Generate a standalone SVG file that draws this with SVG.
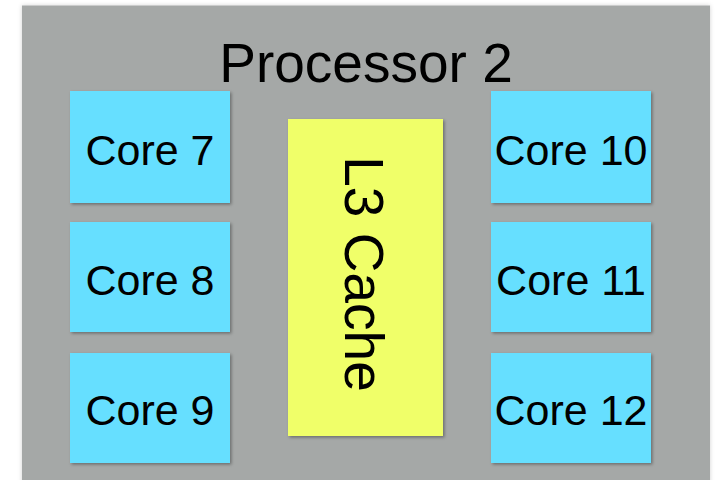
<svg xmlns="http://www.w3.org/2000/svg" width="719" height="480" viewBox="0 0 719 480">
  <style>
    .label { font-family: "Liberation Sans", Arial, Helvetica, sans-serif; fill: #000; text-anchor: middle; }
    .core { fill: #66dfff; filter: url(#boxShadow); }
    .cache { fill: #f0ff69; filter: url(#boxShadow); }
    .core-text { font-size: 43px; }
  </style>
  <defs>
    <filter id="boxShadow" x="-10%" y="-10%" width="125%" height="125%">
      <feDropShadow dx="1.5" dy="1.5" stdDeviation="1.5" flood-color="#000" flood-opacity="0.35"/>
    </filter>
    <filter id="panelShadow" x="-5%" y="-5%" width="110%" height="110%">
      <feDropShadow dx="0" dy="0" stdDeviation="2" flood-color="#000" flood-opacity="0.18"/>
    </filter>
  </defs>

  <rect width="719" height="480" fill="#ffffff"/>

  <!-- processor package -->
  <g id="processor">
    <rect x="22" y="5.5" width="688" height="490" fill="#a5a8a7" filter="url(#panelShadow)"/>
    <text class="label" x="366" y="82" font-size="55">Processor 2</text>
  </g>

  <!-- left column of cores -->
  <g id="core7">
    <rect class="core" x="70" y="91" width="160" height="112"/>
    <text class="label core-text" x="150" y="165">Core 7</text>
  </g>
  <g id="core8">
    <rect class="core" x="70" y="222" width="160" height="110"/>
    <text class="label core-text" x="150" y="295">Core 8</text>
  </g>
  <g id="core9">
    <rect class="core" x="70" y="353" width="160" height="110"/>
    <text class="label core-text" x="150" y="425">Core 9</text>
  </g>

  <!-- shared cache -->
  <g id="l3cache">
    <rect class="cache" x="288" y="119" width="155" height="317"/>
    <text class="label" font-size="55" transform="translate(345 274) rotate(90)">L3 Cache</text>
  </g>

  <!-- right column of cores -->
  <g id="core10">
    <rect class="core" x="491" y="91" width="160" height="112"/>
    <text class="label core-text" x="571" y="165">Core 10</text>
  </g>
  <g id="core11">
    <rect class="core" x="491" y="222" width="160" height="110"/>
    <text class="label core-text" x="571" y="295">Core 11</text>
  </g>
  <g id="core12">
    <rect class="core" x="491" y="353" width="160" height="110"/>
    <text class="label core-text" x="571" y="425">Core 12</text>
  </g>

  <g id="connectors"/>
</svg>
